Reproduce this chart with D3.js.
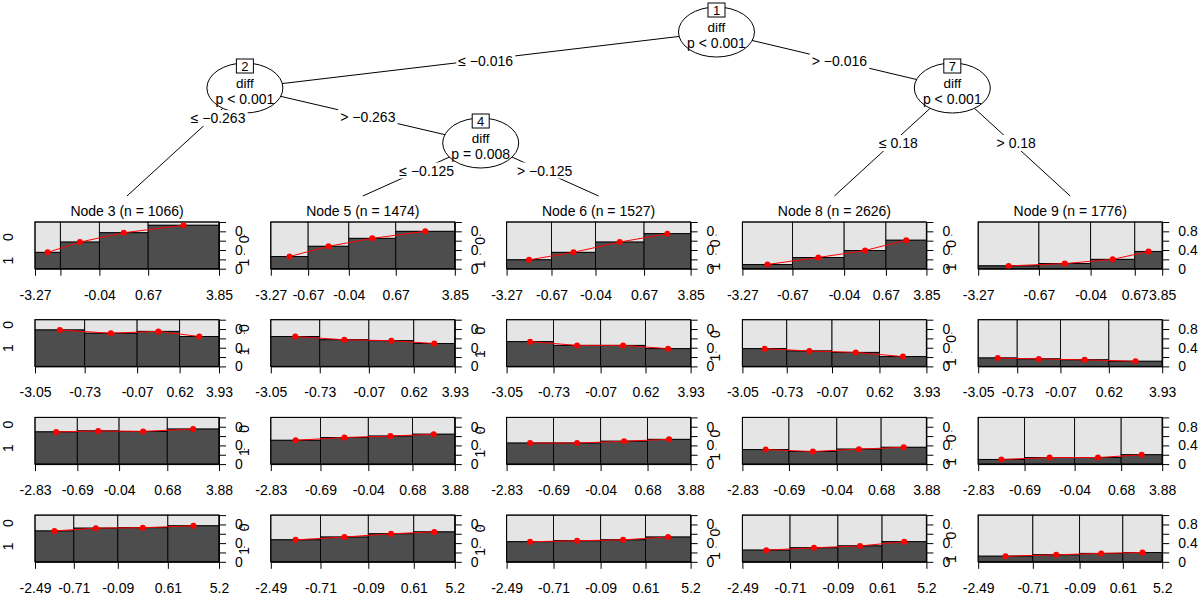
<!DOCTYPE html>
<html><head><meta charset="utf-8">
<script src="https://cdn.jsdelivr.net/npm/d3@7"></script>
<style>
body{margin:0;background:#fff}
text{font-family:"Liberation Sans",Arial,sans-serif}
</style>
</head><body>
<svg id="c" width="1200" height="596"></svg>
<script>
// ---------------- data ----------------
const nodeIds = [3, 5, 6, 8, 9];
const nodeCounts = [1066, 1474, 1527, 2626, 1776];

const tickLabelsRow1 = ["-3.27", "-0.67", "-0.04", "0.67", "3.85"];
const tickLabelsRow2 = ["-3.05", "-0.73", "-0.07", "0.62", "3.93"];
const tickLabelsRow3 = ["-2.83", "-0.69", "-0.04", "0.68", "3.88"];
const tickLabelsRow4 = ["-2.49", "-0.71", "-0.09", "0.61", "5.2"];

// interior bin boundaries (cumulative share of observations) per terminal node
const cutsRow1 = [[0.138,0.350,0.615],[0.203,0.424,0.679],[0.244,0.483,0.747],[0.272,0.553,0.780],[0.330,0.611,0.851]];
const cutsRow2 = [[0.270,0.555,0.786],[0.266,0.533,0.777],[0.255,0.511,0.755],[0.241,0.487,0.745],[0.212,0.447,0.710]];
const cutsRow3 = [[0.230,0.457,0.719],[0.270,0.530,0.770],[0.255,0.511,0.766],[0.253,0.513,0.754],[0.252,0.524,0.777]];
const cutsRow4 = [[0.211,0.450,0.722],[0.270,0.530,0.777],[0.255,0.511,0.755],[0.259,0.519,0.759],[0.297,0.551,0.786]];

// share of level "1" (dark) in each bin
const shareRow1 = [[0.35,0.57,0.77,0.93],[0.26,0.48,0.65,0.80],[0.19,0.35,0.57,0.75],[0.09,0.24,0.39,0.61],[0.06,0.11,0.20,0.37]];
const shareRow2 = [[0.78,0.71,0.75,0.64],[0.64,0.57,0.55,0.49],[0.53,0.45,0.45,0.38],[0.38,0.33,0.30,0.21],[0.18,0.16,0.14,0.11]];
const shareRow3 = [[0.69,0.71,0.70,0.75],[0.51,0.57,0.60,0.64],[0.45,0.45,0.49,0.53],[0.31,0.27,0.32,0.36],[0.10,0.14,0.14,0.20]];
const shareRow4 = [[0.66,0.72,0.73,0.77],[0.47,0.53,0.60,0.64],[0.43,0.45,0.47,0.53],[0.25,0.30,0.34,0.43],[0.12,0.15,0.18,0.20]];

const yTicks = [0, 0.2, 0.4, 0.6, 0.8, 1];
const yTickLabels = ["0", "", "0.4", "", "0.8", ""];
const levelLabels = ["1", "0"];
const hiddenTick = {row: 0, col: 0, index: 1};

// tree
const innerIds = [1, 2, 4, 7];
const innerVar = ["diff", "diff", "diff", "diff"];
const innerP = ["p < 0.001", "p < 0.001", "p = 0.008", "p < 0.001"];
const edgeFrom = [1, 1, 2, 2, 4, 4, 7, 7];
const edgeTo   = [2, 7, 3, 4, 5, 6, 8, 9];
const edgeLabels = ["\u2264 \u22120.016", "> \u22120.016", "\u2264 \u22120.263", "> \u22120.263",
                    "\u2264 \u22120.125", "> \u22120.125", "\u2264 0.18", "> 0.18"];

// ---------------- layout ----------------
const svg = d3.select("#c");
const FS = 14;
const colLeft = d3.scaleLinear().domain([0, 1]).range([35, 35 + 235.8]);
const rowTop = d3.scaleLinear().domain([0, 1]).range([222, 222 + 97.7]);
const PW = 184, PH = 46.7;
const LIGHT = "#E5E5E5", DARK = "#4D4D4D", RED = "#FF0000";

const rows = [
  {labels: tickLabelsRow1, cuts: cutsRow1, share: shareRow1},
  {labels: tickLabelsRow2, cuts: cutsRow2, share: shareRow2},
  {labels: tickLabelsRow3, cuts: cutsRow3, share: shareRow3},
  {labels: tickLabelsRow4, cuts: cutsRow4, share: shareRow4}
];

const defs = svg.append("defs");

// ---------------- tree ----------------
const children = {};
edgeFrom.forEach((f, i) => { (children[f] = children[f] || []).push(edgeTo[i]); });
function leaves(id) { return children[id] ? children[id].flatMap(leaves) : [id]; }
const pos = {};
nodeIds.forEach((id, i) => { pos[id] = {x: colLeft(i) + PW / 2, y: 196, leaf: true}; });
const levelY = [32, 88, 143];
function place(id, depth) {
  if (!children[id]) return;
  children[id].forEach(c => place(c, depth + 1));
  const lastLeft = leaves(children[id][0]).slice(-1)[0];
  const firstRight = leaves(children[id][1])[0];
  pos[id] = {x: (pos[lastLeft].x + pos[firstRight].x) / 2, y: levelY[depth], leaf: false};
}
place(1, 0);

const labelFrac = {3: 0.27};
const treeG = svg.append("g");
edgeFrom.forEach((f, i) => {
  const a = pos[f], b = pos[edgeTo[i]];
  treeG.append("line").attr("x1", a.x).attr("y1", a.y).attr("x2", b.x).attr("y2", b.y)
    .attr("stroke", "#000").attr("stroke-width", 1);
});
innerIds.forEach((id, i) => {
  const p = pos[id];
  const g = treeG.append("g");
  g.append("ellipse").attr("cx", p.x).attr("cy", p.y).attr("rx", 38).attr("ry", 25)
    .attr("fill", "#fff").attr("stroke", "#000");
  g.append("rect").attr("x", p.x - 8.5).attr("y", p.y - 29).attr("width", 17).attr("height", 14)
    .attr("fill", "#fff").attr("stroke", "#000");
  g.append("text").attr("x", p.x).attr("y", p.y - 22).attr("text-anchor", "middle")
    .attr("dominant-baseline", "central").attr("font-size", 13).text(id);
  g.append("text").attr("x", p.x).attr("y", p.y - 5).attr("text-anchor", "middle")
    .attr("dominant-baseline", "central").attr("font-size", 13.5).text(innerVar[i]);
  g.append("text").attr("x", p.x).attr("y", p.y + 11).attr("text-anchor", "middle")
    .attr("dominant-baseline", "central").attr("font-size", FS).text(innerP[i]);
});
edgeFrom.forEach((f, i) => {
  const a = pos[f], b = pos[edgeTo[i]];
  const t = labelFrac[edgeTo[i]] !== undefined ? labelFrac[edgeTo[i]] : 0.5;
  const lx = a.x + (b.x - a.x) * t + 5, ly = a.y + (b.y - a.y) * t + 1;
  const g = treeG.append("g");
  const txt = g.append("text").attr("x", lx).attr("y", ly).attr("text-anchor", "middle")
    .attr("dominant-baseline", "central").attr("font-size", FS).text(edgeLabels[i]);
  const bb = txt.node().getBBox();
  g.insert("rect", "text").attr("x", bb.x - 2).attr("y", bb.y).attr("width", bb.width + 4)
    .attr("height", bb.height).attr("fill", "#fff");
});

// ---------------- terminal panels ----------------
rows.forEach((row, r) => {
  nodeIds.forEach((id, c) => {
    const x0 = colLeft(c), y0 = rowTop(r);
    const x = d3.scaleLinear().domain([0, 1]).range([x0, x0 + PW]);
    const y = d3.scaleLinear().domain([0, 1]).range([y0 + PH, y0]);
    const breaks = [0, ...row.cuts[c], 1];
    const share = row.share[c];
    const g = svg.append("g");

    // title
    if (r === 0) {
      g.append("text").attr("x", x0 + PW / 2).attr("y", y0 - 11).attr("text-anchor", "middle")
        .attr("dominant-baseline", "central").attr("font-size", FS)
        .text(`Node ${id} (n = ${nodeCounts[c]})`);
    }
    // bins
    share.forEach((s, j) => {
      g.append("rect").attr("x", x(breaks[j])).attr("y", y(1))
        .attr("width", x(breaks[j + 1]) - x(breaks[j])).attr("height", y(s) - y(1))
        .attr("fill", LIGHT).attr("stroke", "#000").attr("stroke-width", 0.9);
      g.append("rect").attr("x", x(breaks[j])).attr("y", y(s))
        .attr("width", x(breaks[j + 1]) - x(breaks[j])).attr("height", y(0) - y(s))
        .attr("fill", DARK).attr("stroke", "#000").attr("stroke-width", 0.9);
    });
    g.append("rect").attr("x", x0).attr("y", y0).attr("width", PW).attr("height", PH)
      .attr("fill", "none").attr("stroke", "#000").attr("stroke-width", 1);

    // red line & points
    const pts = share.map((s, j) => [x((breaks[j] + breaks[j + 1]) / 2), y(s)]);
    g.append("path").attr("d", d3.line()(pts)).attr("fill", "none").attr("stroke", RED).attr("stroke-width", 1);
    g.selectAll("circle.pt").data(pts).join("circle").attr("cx", d => d[0]).attr("cy", d => d[1])
      .attr("r", 3).attr("fill", RED);

    // bottom axis
    const labs = row.labels.map((l, k) => (r === hiddenTick.row && c === hiddenTick.col && k === hiddenTick.index) ? "" : l);
    const ax = g.append("g").attr("transform", `translate(0,${y0 + PH})`)
      .call(d3.axisBottom(x).tickValues(breaks).tickFormat((d, k) => labs[k]).tickSize(7).tickSizeOuter(0).tickPadding(14));
    ax.select(".domain").attr("stroke", "#000");
    ax.selectAll("line").attr("stroke", "#000");
    ax.selectAll("text").attr("font-size", FS).attr("font-family", null).attr("fill", "#000");

    // right axis (clipped by the next panel's viewport)
    const clipId = `clip-${r}-${c}`;
    const clipRight = c < nodeIds.length - 1 ? colLeft(c + 1) - 26 : 1200;
    defs.append("clipPath").attr("id", clipId).append("rect")
      .attr("x", x0).attr("y", y0 - 20).attr("width", clipRight - x0).attr("height", PH + 40);
    const ayWrap = g.append("g").attr("clip-path", `url(#${clipId})`);
    const ay = ayWrap.append("g")
      .attr("transform", `translate(${x0 + PW},0)`)
      .call(d3.axisRight(y).tickValues(yTicks).tickFormat((d, k) => yTickLabels[k]).tickSize(7).tickSizeOuter(0).tickPadding(9));
    ay.select(".domain").attr("stroke", "#000");
    ay.selectAll("line").attr("stroke", "#000");
    ay.selectAll("text").attr("font-size", FS).attr("font-family", null).attr("fill", "#000");

    // left level labels (rotated), at middle of bands of first bin
    const bandMid = [share[0] / 2, (share[0] + 1) / 2];
    levelLabels.forEach((lab, k) => {
      const ty = y(bandMid[k]), tx = x0 - 27;
      g.append("text").attr("transform", `translate(${tx},${ty}) rotate(-90)`)
        .attr("text-anchor", "middle").attr("dominant-baseline", "central")
        .attr("font-size", FS).text(lab);
    });
  });
});
</script>
</body></html>
